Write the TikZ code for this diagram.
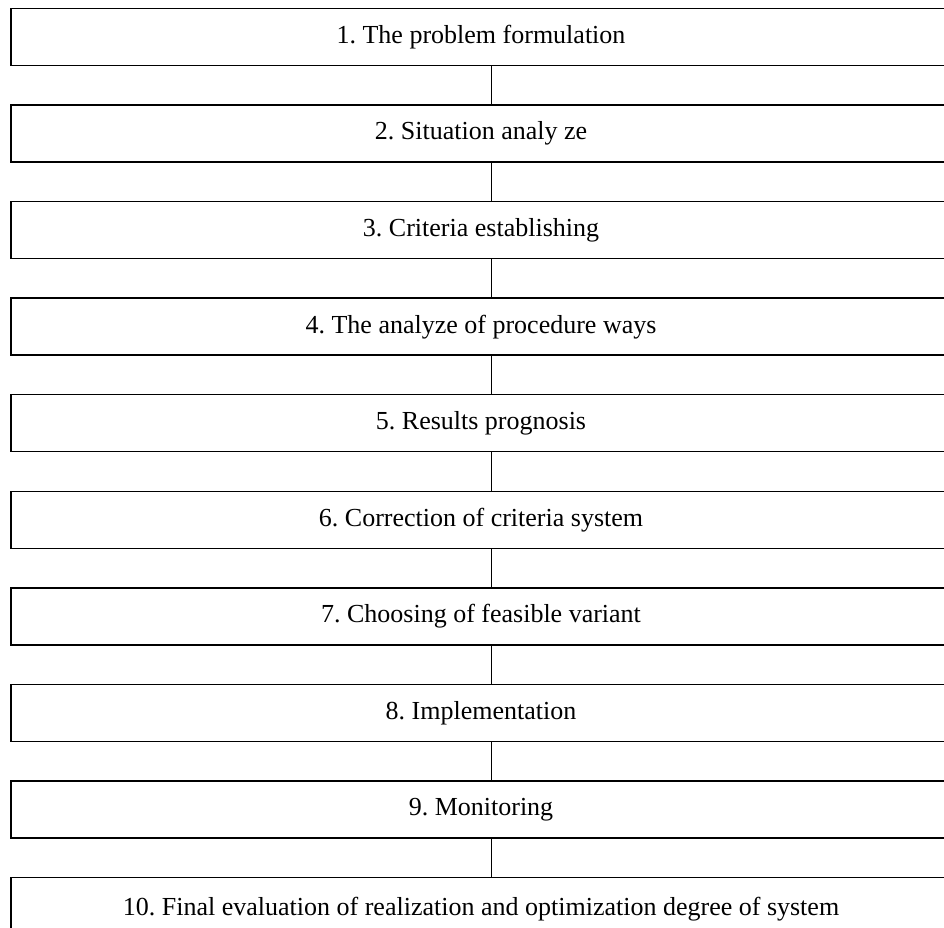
\documentclass[tikz,border=0pt]{standalone}
\usepackage{fontspec}
\setmainfont{Liberation Serif}
\frenchspacing
\begin{document}
\begin{tikzpicture}[x=1pt,y=-1pt,
  box/.style={draw=black,line width=1.4pt,minimum width=940pt,minimum height=57pt,inner sep=0pt,
    font=\fontsize{26}{30}\selectfont\frenchspacing,fill=white},
  link/.style={draw=black,line width=1pt}]
\useasboundingbox (0,0) rectangle (944,927);
\clip (0,0) rectangle (944,927);
\node[box] (b1) at (481,37) {1. The problem formulation};
\node[box] (b2) at (481,133.56) {2. Situation analy ze};
\node[box] (b3) at (481,230.12) {3. Criteria establishing};
\node[box] (b4) at (481,326.68) {4. The analyze of procedure ways};
\node[box] (b5) at (481,423.24) {5. Results prognosis};
\node[box] (b6) at (481,519.8) {6. Correction of criteria system};
\node[box] (b7) at (481,616.36) {7. Choosing of feasible variant};
\node[box] (b8) at (481,712.92) {8. Implementation};
\node[box] (b9) at (481,809.48) {9. Monitoring};
\node[box,text depth=0pt] (b10) at (481,906.04) {10. Final evaluation of realization and optimization degree of system};
\foreach \a/\b in {b1/b2,b2/b3,b3/b4,b4/b5,b5/b6,b6/b7,b7/b8,b8/b9,b9/b10}
  \draw[link] ([xshift=10pt]\a.south) -- ([xshift=10pt]\b.north);
\end{tikzpicture}
\end{document}
